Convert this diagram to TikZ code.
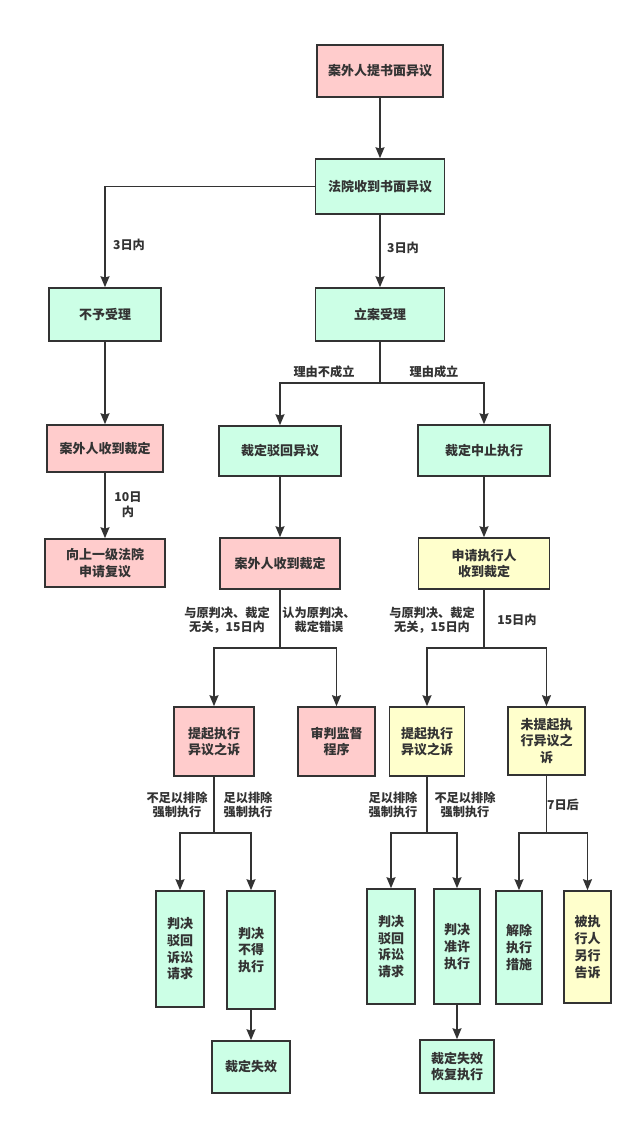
\documentclass[tikz,border=0pt]{standalone}
\usepackage{fontspec}
\setmainfont{Noto Sans CJK SC}
\usetikzlibrary{arrows.meta}
\definecolor{pinkf}{HTML}{FFCCCC}
\definecolor{greenf}{HTML}{CCFFE6}
\definecolor{yellowf}{HTML}{FFFFCC}
\definecolor{ink}{HTML}{333333}
\begin{document}
\begin{tikzpicture}[x=1pt,y=-1pt,
  box/.style={draw=ink,line width=1.6pt,rectangle,align=center,inner sep=0pt,
    text=ink,font=\fontsize{13}{16.7}\selectfont\bfseries},
  pinkbox/.style={box,fill=pinkf},
  greenbox/.style={box,fill=greenf},
  yellowbox/.style={box,fill=yellowf},
  lbl/.style={align=center,inner sep=0pt,text=ink,font=\fontsize{12.2}{14.5}\selectfont\bfseries},
  conn/.style={draw=ink,line width=1.6pt},
  arr/.style={conn,-{Stealth[length=11pt,width=9pt,inset=1.5pt]}}]
\useasboundingbox[fill=white] (0,0) rectangle (640,1123);
% boxes
\node[pinkbox,minimum width=126pt,minimum height=52pt] (A) at (380,71) {案外人提书面异议};
\node[greenbox,minimum width=129pt,minimum height=55pt] (B) at (380,186.5) {法院收到书面异议};
\node[greenbox,minimum width=112pt,minimum height=53pt] (C) at (105,314.5) {不予受理};
\node[greenbox,minimum width=129pt,minimum height=53pt] (D) at (380,314.5) {立案受理};
\node[pinkbox,minimum width=116pt,minimum height=47pt] (E) at (105,448.5) {案外人收到裁定};
\node[pinkbox,minimum width=120pt,minimum height=48pt] (F) at (105,563) {向上一级法院\\申请复议};
\node[greenbox,minimum width=122pt,minimum height=50pt] (G) at (280,451) {裁定驳回异议};
\node[greenbox,minimum width=132pt,minimum height=51pt] (H) at (484,450.5) {裁定中止执行};
\node[pinkbox,minimum width=120pt,minimum height=51pt] (I) at (280,563.5) {案外人收到裁定};
\node[yellowbox,minimum width=131pt,minimum height=51pt] (J) at (484,563.5) {申请执行人\\收到裁定};
\node[pinkbox,minimum width=80pt,minimum height=69pt] (K) at (214,741.5) {提起执行\\异议之诉};
\node[pinkbox,minimum width=77pt,minimum height=69pt] (L) at (336.5,741.5) {审判监督\\程序};
\node[yellowbox,minimum width=75pt,minimum height=69pt] (M) at (427,741.5) {提起执行\\异议之诉};
\node[yellowbox,minimum width=77pt,minimum height=68pt] (N) at (546.5,741) {未提起执\\行异议之\\诉};
\node[greenbox,minimum width=48pt,minimum height=116pt] (O) at (180,949) {判决\\驳回\\诉讼\\请求};
\node[greenbox,minimum width=48pt,minimum height=118pt] (P) at (251,950) {判决\\不得\\执行};
\node[greenbox,minimum width=78pt,minimum height=52pt] (Q) at (251,1067) {裁定失效};
\node[greenbox,minimum width=48pt,minimum height=115pt] (R) at (391,946.5) {判决\\驳回\\诉讼\\请求};
\node[greenbox,minimum width=46pt,minimum height=115pt] (S) at (457,946.5) {判决\\准许\\执行};
\node[greenbox,minimum width=74pt,minimum height=53pt] (T) at (457,1066.5) {裁定失效\\恢复执行};
\node[greenbox,minimum width=46pt,minimum height=113pt] (U) at (519,947.5) {解除\\执行\\措施};
\node[yellowbox,minimum width=47pt,minimum height=112pt] (V) at (587.5,947) {被执\\行人\\另行\\告诉};
% junctions
\coordinate (d1) at (380,383);
\coordinate (i1) at (280,648);
\coordinate (j1) at (484,648);
\coordinate (k1) at (214,833);
\coordinate (m1) at (427,833);
\coordinate (n1) at (546.5,833);
% connectors
\draw[arr] (A) -- (B);
\draw[arr] (B.west) -| (C.north);
\draw[arr] (B) -- (D);
\draw[arr] (C) -- (E);
\draw[arr] (E) -- (F);
\draw[conn] (D.south) -- (d1);
\draw[arr] (d1) -| (G.north);
\draw[arr] (d1) -| (H.north);
\draw[arr] (G) -- (I);
\draw[arr] (H) -- (J);
\draw[conn] (I.south) -- (i1);
\draw[arr] (i1) -| (K.north);
\draw[arr] (i1) -| (L.north);
\draw[conn] (J.south) -- (j1);
\draw[arr] (j1) -| (M.north);
\draw[arr] (j1) -| (N.north);
\draw[conn] (K.south) -- (k1);
\draw[arr] (k1) -| (O.north);
\draw[arr] (k1) -| (P.north);
\draw[conn] (M.south) -- (m1);
\draw[arr] (m1) -| (R.north);
\draw[arr] (m1) -| (S.north);
\draw[conn] (N.south) -- (n1);
\draw[arr] (n1) -| (U.north);
\draw[arr] (n1) -| (V.north);
\draw[arr] (P) -- (Q);
\draw[arr] (S) -- (T);
% labels
\node[lbl] (l1) at (129,245) {3日内};
\node[lbl] (l2) at (403,248) {3日内};
\node[lbl] (l3) at (324,372) {理由不成立};
\node[lbl] (l4) at (434,372) {理由成立};
\node[lbl] (l5) at (128,504.5) {10日\\内};
\node[lbl] (l6) at (227,620) {与原判决、裁定\\无关，15日内};
\node[lbl] (l7) at (319,620) {认为原判决、\\裁定错误};
\node[lbl] (l8) at (432,620) {与原判决、裁定\\无关，15日内};
\node[lbl] (l9) at (517,620) {15日内};
\node[lbl] (l10) at (177,805) {不足以排除\\强制执行};
\node[lbl] (l11) at (248,805) {足以排除\\强制执行};
\node[lbl] (l12) at (393,805) {足以排除\\强制执行};
\node[lbl] (l13) at (465,805) {不足以排除\\强制执行};
\node[lbl] (l14) at (563,805) {7日后};
\end{tikzpicture}
\end{document}
